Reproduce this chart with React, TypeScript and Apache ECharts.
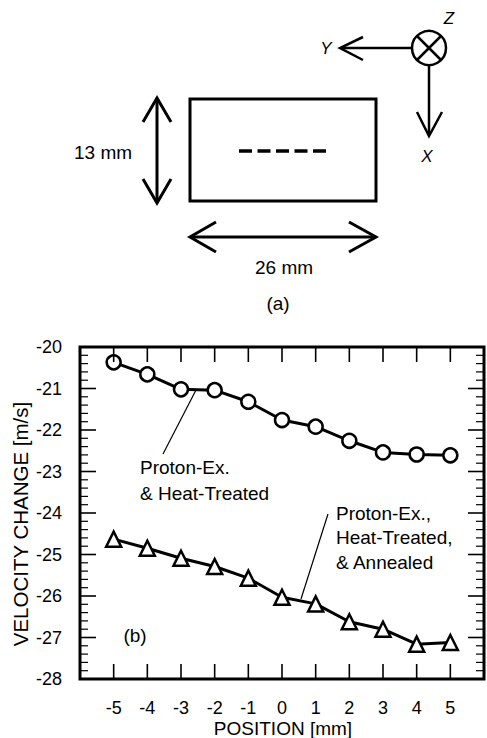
import React, { useEffect, useRef } from "react";
import * as echarts from "echarts";

const positions = [-5, -4, -3, -2, -1, 0, 1, 2, 3, 4, 5];
const heatTreated = [-20.37, -20.66, -21.02, -21.04, -21.32, -21.76, -21.92, -22.26, -22.54, -22.59, -22.61];
const annealed = [-24.63, -24.85, -25.09, -25.29, -25.57, -26.03, -26.19, -26.62, -26.8, -27.16, -27.12];
const yMin = -28;
const yMax = -20;
const xMin = -6;
const xMax = 6;
const xTickValues = [-5, -4, -3, -2, -1, 0, 1, 2, 3, 4, 5];
const yTickValues = [-27, -26, -25, -24, -23, -22, -21];
const yMinorSteps = [0.2, 0.4, 0.6, 0.8];
const xLabel = "POSITION [mm]";
const yLabel = "VELOCITY CHANGE [m/s]";
const labelHeat = "Proton-Ex.\n& Heat-Treated";
const labelAnnealed = "Proton-Ex.,\nHeat-Treated,\n& Annealed";

const FONT = "'Liberation Sans', Arial, Helvetica, sans-serif";

export default function App() {
  const ref = useRef<HTMLDivElement>(null);
  useEffect(() => {
    if (!ref.current) return;
    const chart = echarts.init(ref.current, undefined, { renderer: "svg" });
    const black = "#000";
    const stroke = (w: number) => ({ stroke: black, lineWidth: w, fill: "none" });
    const txt = (text: string, x: number, y: number, size: number, italic = false, rotation = 0) => ({
      type: "text",
      x,
      y,
      rotation,
      style: {
        text,
        fill: black,
        font: `${italic ? "italic " : ""}${size}px ${FONT}`,
        align: "center",
        verticalAlign: "middle",
      },
    });

    const option: any = {
      animation: false,
      backgroundColor: "#fff",
      grid: { left: 80, top: 347, right: 2, bottom: 59 },
      xAxis: {
        type: "value",
        min: xMin,
        max: xMax,
        interval: 1,
        axisLine: { show: false },
        axisTick: { show: false },
        splitLine: { show: false },
        axisLabel: {
          color: black,
          fontSize: 18,
          fontFamily: FONT,
          margin: 20,
          formatter: (v: number) => (v <= xMin || v >= xMax ? "" : String(v)),
        },
      },
      yAxis: {
        type: "value",
        min: yMin,
        max: yMax,
        interval: 1,
        axisLine: { show: false },
        axisTick: { show: false },
        splitLine: { show: false },
        axisLabel: { color: black, fontSize: 18, fontFamily: FONT, margin: 18 },
      },
      series: [
        {
          type: "line",
          data: positions.map((p, i) => [p, heatTreated[i]]),
          symbol: "circle",
          symbolSize: 14,
          lineStyle: { color: black, width: 3 },
          itemStyle: { color: "#fff", borderColor: black, borderWidth: 2.5 },
          z: 3,
        },
        {
          type: "line",
          data: positions.map((p, i) => [p, annealed[i]]),
          symbol: "triangle",
          symbolSize: 15,
          lineStyle: { color: black, width: 3 },
          itemStyle: { color: "#fff", borderColor: black, borderWidth: 2.5 },
          z: 3,
        },
      ],
    };
    chart.setOption(option);

    // frame and tick marks placed through the chart's own scales
    const px = (x: number, y: number) => chart.convertToPixel({ gridIndex: 0 }, [x, y]) as number[];
    const tl = px(xMin, yMax);
    const br = px(xMax, yMin);
    const tickLine = (x: number, y: number, dx: number, dy: number, w: number) => {
      const p = px(x, y);
      return { type: "line", z: 50, shape: { x1: p[0], y1: p[1], x2: p[0] + dx, y2: p[1] + dy }, style: stroke(w) };
    };
    const axisGraphics: any[] = [
      { type: "rect", z: 50, shape: { x: tl[0], y: tl[1], width: br[0] - tl[0], height: br[1] - tl[1] }, style: stroke(3) },
    ];
    xTickValues.forEach((v) => {
      axisGraphics.push(tickLine(v, yMin, 0, -15, 1.6));
      axisGraphics.push(tickLine(v, yMax, 0, 15, 1.6));
    });
    yTickValues.forEach((v) => {
      axisGraphics.push(tickLine(xMin, v, 16, 0, 1.6));
      axisGraphics.push(tickLine(xMax, v, -16, 0, 1.6));
    });
    for (let v = yMin; v < yMax; v++) {
      yMinorSteps.forEach((s) => {
        axisGraphics.push(tickLine(xMin, v + s, 8, 0, 1.2));
        axisGraphics.push(tickLine(xMax, v + s, -8, 0, 1.2));
      });
    }

    const diagram: any[] = [
      // (a) specimen diagram
      { type: "rect", shape: { x: 190, y: 99, width: 186, height: 102 }, style: stroke(3) },
      { type: "line", shape: { x1: 239, y1: 151, x2: 326, y2: 151 }, style: { ...stroke(3.5), lineDash: [13, 5.5] } },
      { type: "line", shape: { x1: 157, y1: 98, x2: 157, y2: 203 }, style: stroke(3) },
      { type: "polyline", shape: { points: [[143, 122], [157, 98], [171, 122]] }, style: stroke(3) },
      { type: "polyline", shape: { points: [[143, 179], [157, 203], [171, 179]] }, style: stroke(3) },
      { type: "line", shape: { x1: 190, y1: 237, x2: 376, y2: 237 }, style: stroke(3) },
      { type: "polyline", shape: { points: [[216, 222], [190, 237], [216, 252]] }, style: stroke(3) },
      { type: "polyline", shape: { points: [[349, 222], [376, 237], [349, 252]] }, style: stroke(3) },
      txt("13 mm", 103, 152, 19),
      txt("26 mm", 284, 267, 19),
      txt("(a)", 278, 303, 19),
      // coordinate system
      { type: "circle", shape: { cx: 429, cy: 48, r: 17 }, style: stroke(2.5) },
      { type: "line", shape: { x1: 417, y1: 36, x2: 441, y2: 60 }, style: stroke(2.5) },
      { type: "line", shape: { x1: 441, y1: 36, x2: 417, y2: 60 }, style: stroke(2.5) },
      { type: "line", shape: { x1: 412, y1: 48, x2: 341, y2: 48 }, style: stroke(2.5) },
      { type: "polyline", shape: { points: [[363, 37], [340, 48], [363, 60]] }, style: stroke(2.5) },
      { type: "line", shape: { x1: 429, y1: 65, x2: 429, y2: 135 }, style: stroke(2.5) },
      { type: "polyline", shape: { points: [[417, 112], [429, 136], [442, 112]] }, style: stroke(2.5) },
      txt("Y", 326, 48, 17, true),
      txt("X", 427, 156, 17, true),
      txt("Z", 449, 18, 17, true),
      // axis titles
      txt(yLabel, 20, 524, 20.5, false, Math.PI / 2),
      txt(xLabel, 283, 728, 19),
      // (b) annotations
      { type: "line", shape: { x1: 196, y1: 390, x2: 163, y2: 454 }, style: stroke(1.2) },
      { type: "line", shape: { x1: 328, y1: 514, x2: 301, y2: 599 }, style: stroke(1.2) },
      {
        type: "text",
        x: 140,
        y: 454,
        style: { text: labelHeat, fill: black, font: `19px ${FONT}`, align: "left", verticalAlign: "top", lineHeight: 26 },
      },
      {
        type: "text",
        x: 336,
        y: 501,
        style: { text: labelAnnealed, fill: black, font: `19px ${FONT}`, align: "left", verticalAlign: "top", lineHeight: 24.5 },
      },
      txt("(b)", 135, 635, 19),
    ];

    chart.setOption({ graphic: [...diagram, ...axisGraphics] });
    return () => chart.dispose();
  }, []);
  return (
    <div
      ref={ref}
      style={{ position: "fixed", left: 0, top: 0, width: 487, height: 738, background: "#fff" }}
    />
  );
}
